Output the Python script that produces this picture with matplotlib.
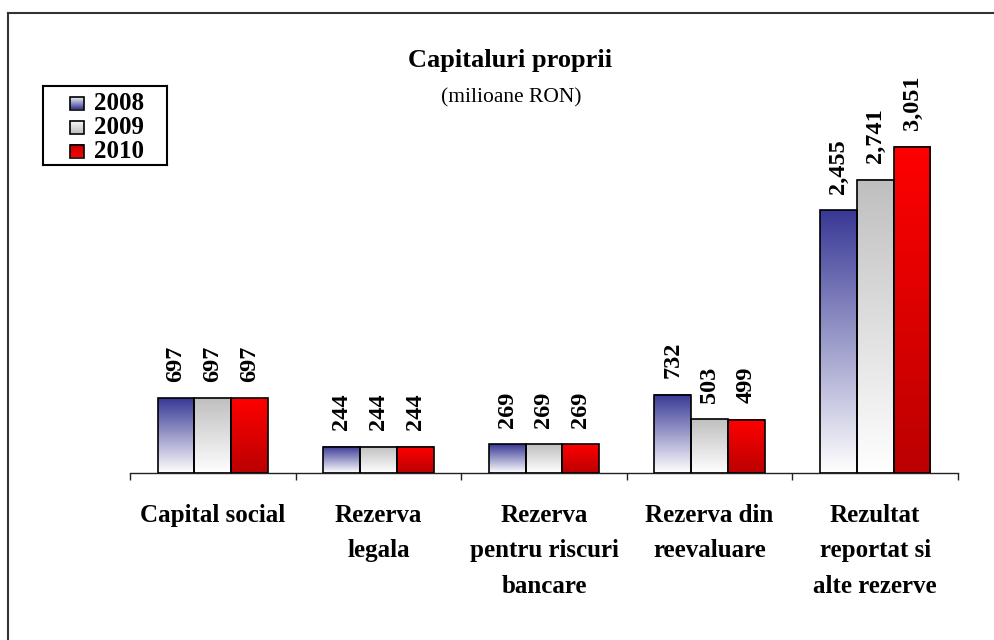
import matplotlib
matplotlib.use('Agg')
import matplotlib.pyplot as plt
from matplotlib.lines import Line2D
from matplotlib.patches import Rectangle
import numpy as np

# data
categories = ['Capital social', 'Rezerva\nlegala', 'Rezerva\npentru riscuri\nbancare',
              'Rezerva din\nreevaluare', 'Rezultat\nreportat si\nalte rezerve']
years = ['2008', '2009', '2010']
v2008 = [697, 244, 269, 732, 2455]
v2009 = [697, 244, 269, 503, 2741]
v2010 = [697, 244, 269, 499, 3051]
series = [v2008, v2009, v2010]

# gradient colours (top, bottom) per year
grad = [('#383896', '#ffffff'), ('#bfbfbf', '#ffffff'), ('#ff0000', '#bb0000')]

plt.rcParams['font.family'] = ['Liberation Serif', 'DejaVu Serif']

W, H = 995, 640
fig = plt.figure(figsize=(W / 100, H / 100), dpi=100)


def px(x0, y0, x1, y1):
    # pixel box (top-left origin) -> figure fraction rect
    return [x0 / W, 1 - y1 / H, (x1 - x0) / W, (y1 - y0) / H]


def gradient_img(top, bottom, n=256):
    t = np.linspace(0, 1, n)[:, None]
    c_top = np.array(matplotlib.colors.to_rgb(top))
    c_bot = np.array(matplotlib.colors.to_rgb(bottom))
    img = c_bot[None, :] * (1 - t) + c_top[None, :] * t
    return img[:, None, :]


ax = fig.add_axes(px(130, 40, 958, 473))
n = len(categories)
x = np.arange(n)
bw = 0.222

for k, vals in enumerate(series):
    bars = ax.bar(x + (k - 1) * bw, vals, bw, facecolor='none', edgecolor='black',
                  linewidth=1.2, zorder=3)
    img = gradient_img(*grad[k])
    for b, v in zip(bars, vals):
        bx = b.get_x()
        ax.imshow(img, extent=[bx, bx + bw, 0, v], origin='lower', aspect='auto',
                  interpolation='bilinear', zorder=2)
        ax.annotate(f'{v:,}', (bx + bw / 2, v), xytext=(0, 12), textcoords='offset points',
                    rotation=90, ha='center', va='bottom', fontsize=17.5, fontweight='bold')

ax.set_xlim(-0.5, n - 0.5)
ax.set_ylim(0, 4047)
for s in ['left', 'right', 'top']:
    ax.spines[s].set_visible(False)
ax.spines['bottom'].set_linewidth(1.0)
ax.spines['bottom'].set_color('#222222')
ax.set_yticks([])
ax.set_xticks(np.arange(-0.5, n, 1.0))
ax.set_xticklabels([])
ax.tick_params(axis='x', which='major', length=5, width=1.0, color='#222222')
ax.set_xticks(x, minor=True)
ax.set_xticklabels(categories, minor=True, fontsize=18, fontweight='bold', linespacing=1.7)
ax.tick_params(axis='x', which='minor', length=0, pad=22)

# title
fig.text(510 / W, 1 - 60 / H, 'Capitaluri proprii', ha='center', va='center',
         fontsize=19, fontweight='bold')
fig.text(511 / W, 1 - 98 / H, '(milioane RON)', ha='center', va='center', fontsize=15.5)

# legend box drawn by hand
lax = fig.add_axes(px(43, 86, 167, 165))
lax.set_xticks([])
lax.set_yticks([])
for s in lax.spines.values():
    s.set_linewidth(1.5)
    s.set_color('black')
for k, yr in enumerate(years):
    yc = 103 + 24 * k
    lax.imshow(gradient_img(*grad[k]), extent=[70, 84, yc + 6.5, yc - 6.5],
               origin='upper', aspect='auto', zorder=2)
    lax.add_patch(Rectangle((70, yc - 6.5), 14, 13, facecolor='none', edgecolor='black',
                            linewidth=1.2, zorder=3))
    lax.text(94, yc + 1, yr, ha='left', va='center', fontsize=18, fontweight='bold')
lax.set_xlim(43, 167)
lax.set_ylim(165, 86)

# frame lines (top and left only visible)
fig.add_artist(Line2D([8 / W, 8 / W], [0, 1 - 13 / H], color='#333333', linewidth=1.5))
fig.add_artist(Line2D([8 / W, 1], [1 - 13 / H, 1 - 13 / H], color='#333333', linewidth=1.5))

fig.savefig('out.png', dpi=100)
